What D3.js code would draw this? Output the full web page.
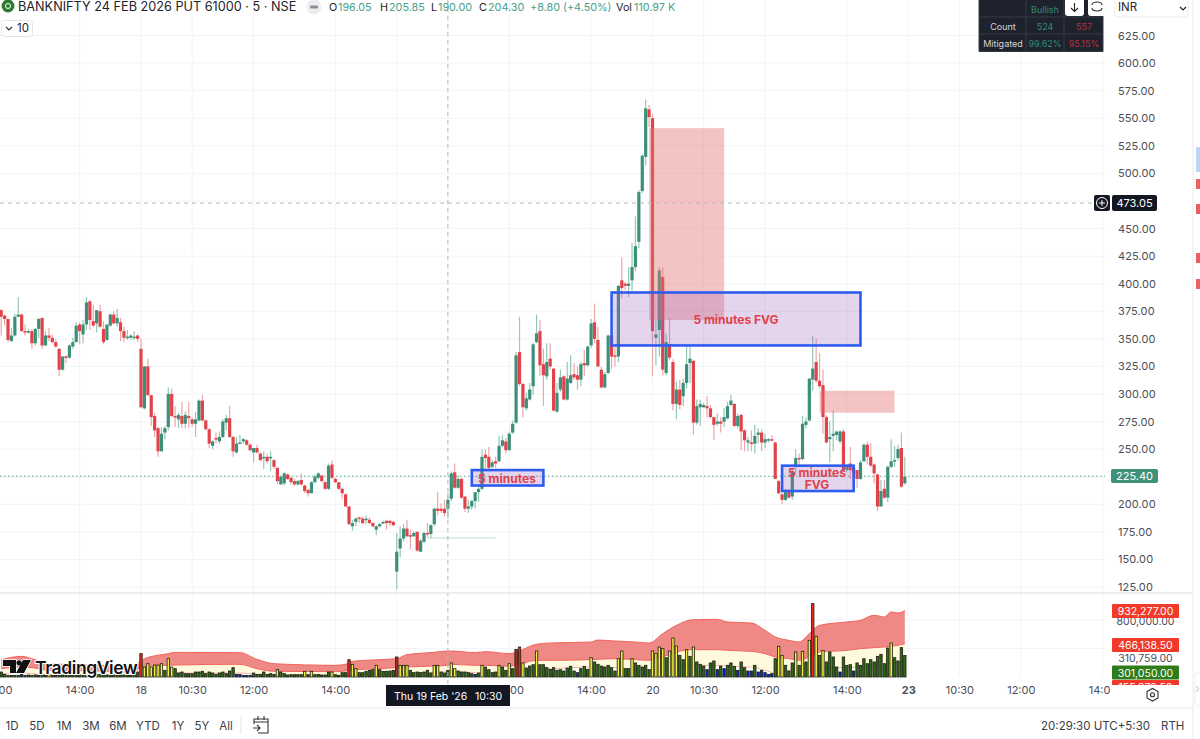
<!DOCTYPE html>
<html>
<head>
<meta charset="utf-8">
<script src="https://cdn.jsdelivr.net/npm/d3@7"></script>
<style>
  body { margin: 0; background: #fff; font-family: Inter, "Noto Sans", sans-serif; }
  text { font-family: Inter, "Noto Sans", sans-serif; }
</style>
</head>
<body>
<div id="chart"></div>
<script>
// candles, one entry per 5 minute bar
const opens = [
  376,371,368,348,353,370,372,357,356,357,
  346,359,369,344,353,351,347,341,322,334,
  333,343,347,363,354,363,384,366,364,375,
  359,349,362,372,364,365,357,351,351,351,
  353,341,287,325,299,280,269,248,265,270,
  300,280,277,280,273,280,277,273,276,294,
  276,268,253,260,257,261,274,278,261,247,
  255,257,258,254,247,251,246,242,243,242,
  240,233,218,219,227,224,221,218,222,217,
  213,210,220,224,226,220,214,236,223,220,
  214,209,198,180,184,188,187,186,186,183,
  177,180,183,185,185,184,139,160,169,178,
  172,171,175,157,166,174,173,182,196,196,
  196,196,205,229,215,223,207,196,198,203,
  211,214,245,243,234,239,239,253,257,249,
  265,274,338,309,287,295,307,347,357,327,
  316,332,323,284,304,316,295,310,318,317,
  313,328,326,344,365,349,322,306,319,353,
  335,334,403,400,398,403,415,438,484,515,
  558,550,351,358,406,319,345,329,291,304,
  298,310,328,330,274,288,288,289,287,279,
  273,275,275,278,290,291,271,281,267,256,
  256,255,263,265,256,258,259,256,221,209,
  204,211,207,234,242,241,272,276,313,329,
  312,308,279,259,262,263,257,266,231,237,
  233,231,223,239,254,243,236,227,198,214,
  206,234,239,242,251,219];
const highs = [
  377,372,368,360,373,388,373,363,359,359,
  360,369,369,357,360,354,350,341,334,335,
  345,351,365,365,367,388,385,381,376,381,
  366,363,373,375,377,369,361,358,354,357,
  354,350,325,332,299,283,270,270,271,306,
  305,289,283,293,284,293,279,284,295,299,
  277,269,258,265,266,277,281,289,262,261,
  263,260,259,255,251,254,247,248,246,248,
  241,234,226,229,228,225,223,222,228,218,
  214,221,227,229,227,221,237,240,224,220,
  215,210,198,186,188,189,189,190,188,184,
  181,183,185,186,186,185,174,180,182,186,
  177,176,176,168,175,183,182,197,211,201,
  204,210,230,237,226,224,207,204,204,211,
  216,250,250,252,240,243,262,263,260,266,
  276,338,370,310,301,310,346,372,367,341,
  346,346,323,310,322,317,329,335,328,325,
  329,340,344,368,382,361,325,320,354,353,
  343,399,424,402,415,437,461,485,517,567,
  562,554,367,415,415,355,369,332,311,313,
  314,344,343,331,295,295,292,298,290,279,
  282,279,287,293,299,292,282,282,268,261,
  267,272,269,268,264,260,263,257,222,210,
  214,214,233,250,246,280,279,314,353,350,
  337,322,281,275,285,266,267,268,236,252,
  235,231,240,255,257,255,237,228,222,222,
  235,259,253,254,265,243];
const lows = [
  353,362,347,347,352,370,356,353,355,341,
  344,351,341,344,348,346,342,316,321,328,
  332,341,347,345,346,358,358,361,356,360,
  345,348,361,363,361,348,347,349,349,349,
  347,287,286,298,271,261,243,248,259,267,
  279,270,269,269,269,269,270,261,275,275,
  267,251,250,255,255,260,267,260,243,246,
  255,255,253,248,238,246,239,232,237,230,
  232,218,218,217,222,218,217,217,217,210,
  207,210,219,223,220,213,213,223,219,213,
  205,198,181,176,180,183,182,182,182,179,
  172,179,182,177,180,180,123,152,166,170,
  159,170,157,157,165,170,169,180,190,192,
  189,187,203,214,214,205,193,192,195,196,
  202,213,231,232,233,233,238,252,246,249,
  264,273,307,279,285,294,299,346,316,289,
  313,322,284,283,302,294,294,309,313,304,
  307,316,325,342,346,324,305,305,318,323,
  325,329,387,394,388,394,411,432,482,507,
  542,316,326,334,317,317,331,285,277,286,
  289,305,310,263,272,271,287,279,278,258,
  271,265,270,277,289,270,269,249,248,248,
  248,246,255,248,251,256,257,223,209,200,
  203,205,204,227,234,240,269,275,303,310,
  305,264,255,238,248,258,255,230,229,223,
  225,215,222,238,236,234,219,194,198,205,
  202,233,234,240,215,218];
const closes = [
  370,368,349,353,370,372,357,356,357,346,
  359,368,344,353,351,347,343,322,334,333,
  344,347,362,357,363,383,367,362,376,361,
  347,363,372,364,369,357,351,352,353,352,
  350,288,325,299,279,267,248,264,269,300,
  280,279,281,273,281,278,273,277,294,276,
  268,255,257,259,261,275,278,261,248,255,
  256,259,254,249,251,247,240,243,239,243,
  234,221,225,228,223,220,218,221,218,212,
  210,220,225,228,221,214,235,224,220,214,
  210,198,182,183,187,187,183,187,183,180,
  180,182,184,183,183,181,157,169,178,171,
  171,174,158,167,174,173,181,196,194,194,
  192,204,228,215,223,206,196,198,203,211,
  214,243,242,233,238,237,253,258,249,264,
  273,335,309,288,296,304,345,355,326,317,
  329,325,285,301,315,295,314,317,315,313,
  327,326,343,364,350,325,306,318,353,334,
  334,398,396,398,400,415,434,483,516,559,
  551,357,354,412,322,347,333,291,304,290,
  310,327,332,274,289,291,290,287,279,272,
  275,273,279,289,294,271,280,266,258,258,
  255,262,265,256,259,259,258,223,210,204,
  211,206,230,242,241,273,275,314,323,312,
  307,279,256,261,264,266,266,231,235,231,
  228,223,238,254,243,235,228,198,212,206,
  234,239,240,250,216,225];

// volume in thousands
const volumes = [
  70,37,23,23,23,23,37,23,28,23,
  28,23,33,23,33,23,23,23,28,23,
  33,23,28,28,23,23,28,37,37,37,
  33,28,28,28,28,28,28,28,23,70,
  70,328,140,187,140,168,168,187,94,257,
  140,117,56,70,47,47,47,70,70,80,
  47,70,56,37,56,70,47,84,131,37,
  37,23,23,23,56,37,37,70,37,47,
  37,103,70,47,28,33,33,33,33,80,
  33,80,33,37,28,28,70,70,33,23,
  61,61,243,178,117,61,61,80,94,103,
  164,103,80,80,84,94,281,164,164,164,
  94,61,70,61,70,94,56,164,164,70,
  56,94,197,117,84,70,70,61,47,37,
  56,164,140,103,61,70,164,140,94,187,
  117,388,421,197,126,154,173,365,173,173,
  131,108,131,94,103,84,126,150,84,61,
  117,150,108,271,211,178,154,140,164,131,
  84,257,365,117,117,257,197,164,140,164,
  103,365,328,421,398,271,365,548,435,304,
  243,384,290,421,211,178,154,103,197,225,
  103,154,117,164,197,150,94,211,131,84,
  84,164,70,94,61,37,47,257,431,304,
  164,84,197,351,164,360,211,515,1030,571,
  304,374,211,351,281,140,70,281,164,173,
  84,197,164,257,187,243,211,290,318,187,
  407,477,271,225,412,301];
const yellowBars = [14,42,43,44,45,46,47,49,50,81,89,91,97,103,104,110,117,118,119,127,128,132,133,141,146,149,153,157,173,181,182,185,191,192,193,194,196,197,198,201,203,228,229,233,235,237,239,241,261];
const redBars = [41,102,152,238];
const darkRedBars = [116,151];
const blueBars = [6,69,70,71,72,73,139,169,207,210,212,216,219,220,222,223,224,225,226,246,250];

// volume band, sampled at these bars (thousands)
const bandBars = [0,6,9,14,29,38,42,49,51,68,70,75,80,98,101,103,109,116,119,127,131,132,139,142,149,157,161,173,175,180,186,190,194,198,203,210,213,220,224,227,231,234,237,240,248,252,256,259,261,263,265];
const bandUpper = [243,290,257,187,164,140,257,328,346,342,342,248,187,164,178,220,239,257,314,346,365,365,342,356,328,459,477,491,519,505,491,477,608,725,805,810,772,758,655,562,515,491,608,725,772,796,866,842,913,899,932];
const bandLower = [117,140,131,94,84,70,150,164,168,178,178,117,80,75,84,103,112,131,140,154,164,178,164,164,150,234,234,243,248,257,243,234,281,351,384,384,374,360,328,281,257,234,281,351,374,398,412,421,431,445,466];
const bandInner = [47,56,47,28,28,23,47,51,56,56,56,37,23,23,23,33,37,47,51,66,70,70,61,56,51,103,112,140,140,131,112,94,126,154,164,164,150,140,94,56,94,103,103,131,131,140,164,178,187,197,211];

const priceTicks = [125,150,175,200,225,250,275,300,325,350,375,400,425,450,475,500,525,550,575,600,625];
// these two labels sit under the price tags in the picture
const hiddenPriceLabels = [225,475];
const timeTickBars = [-1,23,41,56,74,98,116,149,173,191,206,224,248,266,281,299,323];
const timeTickLabels = ["12:00","14:00","18","10:30","12:00","14:00","19","12:00","14:00","20","10:30","12:00","14:00","23","10:30","12:00","14:00"];
const gridBars = [23,41,56,74,98,116,131,149,173,191,206,224,248,266,281,299,323];
const volGridValues = [400,800];

// drawings on the chart: bar from, bar to, price top, price bottom
const pinkBoxes = [[190,212,541,367],[240,262,303,283]];
const blueBoxes = [[179,252,392,344],[138,159,231,217],[229,250,235,212]];
const lastPrice = 225.4;
const crossPrice = 473.05;
const crossBar = 131;
const supportLine = [125,145,169.5];

const WIDTH = 1200, HEIGHT = 739;
const MAIN_TOP = 0, MAIN_BOTTOM = 593, VOL_BOTTOM = 677, TIME_BOTTOM = 708, PLOT_RIGHT = 1105;

const svg = d3.select("#chart").append("svg")
  .attr("width", WIDTH).attr("height", HEIGHT).style("display", "block");

const defs = svg.append("defs");
defs.append("clipPath").attr("id", "plot").append("rect")
  .attr("x", 0).attr("y", MAIN_TOP).attr("width", PLOT_RIGHT).attr("height", MAIN_BOTTOM);
defs.append("clipPath").attr("id", "volplot").append("rect")
  .attr("x", 0).attr("y", MAIN_BOTTOM).attr("width", PLOT_RIGHT).attr("height", VOL_BOTTOM - MAIN_BOTTOM + 1);
defs.append("clipPath").attr("id", "timeclip").append("rect")
  .attr("x", 0).attr("y", VOL_BOTTOM).attr("width", 1110).attr("height", 30);
defs.append("clipPath").attr("id", "volaxis").append("rect")
  .attr("x", 1105).attr("y", MAIN_BOTTOM).attr("width", 90).attr("height", 685 - MAIN_BOTTOM);

const X = d3.scaleLinear().domain([0, 323]).range([1.2, 1102.6]);
const Y = d3.scaleLinear().domain([125, 625]).range([587, 35.5]);
const V = d3.scaleLinear().domain([0, 800]).range([VOL_BOTTOM, 620]);

const GREEN = "#3c8f78", RED = "#e1434b", GREEN_WICK = "#93c7b6", RED_WICK = "#eea6a9";
const GRID = "#f3f4f6";

// grid
svg.append("g").selectAll("line").data(priceTicks).enter().append("line")
  .attr("x1", 0).attr("x2", PLOT_RIGHT)
  .attr("y1", d => Y(d)).attr("y2", d => Y(d))
  .attr("stroke", GRID);
svg.append("g").selectAll("line").data(gridBars).enter().append("line")
  .attr("x1", d => X(d)).attr("x2", d => X(d))
  .attr("y1", 0).attr("y2", VOL_BOTTOM)
  .attr("stroke", GRID);
svg.append("g").selectAll("line").data(volGridValues).enter().append("line")
  .attr("x1", 0).attr("x2", PLOT_RIGHT)
  .attr("y1", d => V(d)).attr("y2", d => V(d))
  .attr("stroke", GRID);

const main = svg.append("g").attr("clip-path", "url(#plot)");

// last price dotted line
main.append("line")
  .attr("x1", 0).attr("x2", PLOT_RIGHT)
  .attr("y1", Y(lastPrice)).attr("y2", Y(lastPrice))
  .attr("stroke", "#5aa893").attr("stroke-dasharray", "1.5 2.5");

// candles
const bars = d3.range(opens.length);
main.append("g").selectAll("line").data(bars).enter().append("line")
  .attr("x1", d => X(d)).attr("x2", d => X(d))
  .attr("y1", d => Y(highs[d])).attr("y2", d => Y(lows[d]))
  .attr("stroke", d => closes[d] >= opens[d] ? GREEN_WICK : RED_WICK)
  .attr("stroke-width", 1.2);
main.append("g").selectAll("rect").data(bars).enter().append("rect")
  .attr("x", d => X(d) - 1.6)
  .attr("width", 3.2)
  .attr("y", d => Y(Math.max(opens[d], closes[d])))
  .attr("height", d => Math.max(1.5, Math.abs(Y(opens[d]) - Y(closes[d]))))
  .attr("fill", d => closes[d] >= opens[d] ? GREEN : RED);

// support line
main.append("line")
  .attr("x1", X(supportLine[0])).attr("x2", X(supportLine[1]))
  .attr("y1", Y(supportLine[2])).attr("y2", Y(supportLine[2]))
  .attr("stroke", "#b5ddd2");

// boxes
main.append("g").selectAll("rect").data(pinkBoxes).enter().append("rect")
  .attr("x", d => X(d[0])).attr("width", d => X(d[1]) - X(d[0]))
  .attr("y", d => Y(d[2])).attr("height", d => Y(d[3]) - Y(d[2]))
  .attr("fill", "#e57373").attr("fill-opacity", 0.42);
main.append("g").selectAll("rect").data(blueBoxes).enter().append("rect")
  .attr("x", d => X(d[0])).attr("width", d => X(d[1]) - X(d[0]))
  .attr("y", d => Y(d[2])).attr("height", d => Y(d[3]) - Y(d[2]))
  .attr("fill", "#9c64be").attr("fill-opacity", 0.27)
  .attr("stroke", "#2f5cf0").attr("stroke-width", 2.6);

const boxText = (x, y, str) => main.append("text")
  .attr("x", x).attr("y", y).attr("text-anchor", "middle")
  .attr("font-size", 12).attr("font-weight", 700).attr("fill", "#e0404a").text(str);
boxText(736, 324, "5 minutes FVG");
boxText(507, 483, "5 minutes");
boxText(817, 477, "5 minutes");
boxText(817, 489, "FVG");

// volume pane
const vol = svg.append("g").attr("clip-path", "url(#volplot)");
const bandArea = (top, bottom) => d3.area()
  .x((d, i) => X(bandBars[i]))
  .y0((d, i) => V(bottom[i]))
  .y1((d, i) => V(top[i]))
  .curve(d3.curveMonotoneX);
const bandLine = (vals) => d3.line()
  .x((d, i) => X(bandBars[i]))
  .y((d, i) => V(vals[i]))
  .curve(d3.curveMonotoneX);
vol.append("path").attr("d", bandArea(bandUpper, bandLower)(bandBars)).attr("fill", "#ef8986");
vol.append("path").attr("d", bandArea(bandLower, bandInner)(bandBars)).attr("fill", "#fff9de");
vol.append("path").attr("d", bandLine(bandUpper)(bandBars)).attr("fill", "none").attr("stroke", "#f2625c");
vol.append("path").attr("d", bandLine(bandLower)(bandBars)).attr("fill", "none").attr("stroke", "#f2625c");
vol.append("path").attr("d", bandLine(bandInner)(bandBars)).attr("fill", "none").attr("stroke", "#f6b5ac");

const volColor = (i) => {
  if (redBars.includes(i)) return "#f0261a";
  if (darkRedBars.includes(i)) return "#a8301f";
  if (yellowBars.includes(i)) return "#f4ee3c";
  if (blueBars.includes(i)) return "#0d22c8";
  return "#2e6a14";
};
vol.append("g").selectAll("rect").data(bars).enter().append("rect")
  .attr("x", d => X(d) - 1.2)
  .attr("width", 2.4)
  .attr("y", d => V(volumes[d]))
  .attr("height", d => VOL_BOTTOM - V(volumes[d]))
  .attr("fill", d => volColor(d))
  .attr("stroke", "#1b1f14").attr("stroke-width", 0.8);

// logo sits over the volume pane
const logo = svg.append("g");
logo.append("path")
  .attr("d", "M3 660H16V673H10V666H3ZM19 665.5a2.6 2.6 0 1 1 0.01 0ZM23 660H31L24 673H16Z")
  .attr("fill", "#111").attr("stroke", "#fff").attr("stroke-width", 1.5).attr("paint-order", "stroke");
logo.append("text").attr("x", 35).attr("y", 673.5)
  .attr("font-size", 17.5).attr("font-weight", 600).attr("letter-spacing", -0.4).attr("fill", "#111")
  .attr("stroke", "#fff").attr("stroke-width", 2).attr("paint-order", "stroke")
  .text("TradingView");

// crosshair
svg.append("line")
  .attr("x1", X(crossBar)).attr("x2", X(crossBar))
  .attr("y1", 0).attr("y2", 685)
  .attr("stroke", "#b4b7bd").attr("stroke-dasharray", "4 4");
svg.append("line")
  .attr("x1", 0).attr("x2", 1095)
  .attr("y1", Y(crossPrice)).attr("y2", Y(crossPrice))
  .attr("stroke", "#b4b7bd").attr("stroke-dasharray", "4 4");

// separators
svg.append("line").attr("x1", 0).attr("x2", 1192).attr("y1", MAIN_BOTTOM).attr("y2", MAIN_BOTTOM)
  .attr("stroke", "#e6e7ea").attr("stroke-width", 1.5);
svg.append("line").attr("x1", 0).attr("x2", 1192).attr("y1", TIME_BOTTOM).attr("y2", TIME_BOTTOM)
  .attr("stroke", "#e6e7ea").attr("stroke-width", 1);
svg.append("line").attr("x1", 1193).attr("x2", 1193).attr("y1", 0).attr("y2", 739)
  .attr("stroke", "#e9eaed").attr("stroke-width", 1);

// price axis
const priceAxis = svg.append("g")
  .attr("transform", "translate(1118,0)")
  .call(d3.axisRight(Y)
    .tickValues(priceTicks.filter(d => !hiddenPriceLabels.includes(d)))
    .tickSize(0).tickPadding(0).tickFormat(d3.format(".2f")));
priceAxis.select(".domain").remove();
priceAxis.selectAll("text").attr("font-size", 11).attr("letter-spacing", 0.1).attr("fill", "#4a4e57").attr("x", 0);

// time axis
const timeAxis = svg.append("g")
  .attr("clip-path", "url(#timeclip)")
  .append("g")
  .attr("transform", "translate(0,686)")
  .call(d3.axisBottom(X).tickValues(timeTickBars).tickSize(0).tickPadding(0)
    .tickFormat((d, i) => timeTickLabels[i]));
timeAxis.select(".domain").remove();
timeAxis.selectAll("text")
  .attr("font-size", 11).attr("fill", "#4a4e57")
  .attr("font-weight", d => d === 266 ? 700 : 400);

// tags on the price axis
const tag = (x, y, w, h, fill, str, color) => {
  const g = svg.append("g");
  g.append("rect").attr("x", x).attr("y", y).attr("width", w).attr("height", h).attr("rx", 2).attr("fill", fill);
  g.append("text").attr("x", x + w / 2).attr("y", y + h / 2 + 4).attr("text-anchor", "middle")
    .attr("font-size", 11).attr("fill", color).text(str);
};
tag(1112, 195, 45, 16, "#131722", "473.05", "#fff");
tag(1111, 469, 47, 14, "#3f917a", "225.40", "#fff");

// plus button on the crosshair
svg.append("rect").attr("x", 1094).attr("y", 195).attr("width", 16).attr("height", 16).attr("rx", 2).attr("fill", "#131722");
svg.append("circle").attr("cx", 1102).attr("cy", 203).attr("r", 5.5).attr("fill", "none").attr("stroke", "#fff");
svg.append("path").attr("d", "M1099 203H1105M1102 200V206").attr("stroke", "#fff");

// volume axis labels
const volAxisG = svg.append("g").attr("clip-path", "url(#volaxis)");
const volLabel = (y, fill, str, color) => {
  if (fill) volAxisG.append("rect").attr("x", 1112).attr("y", y - 7).attr("width", 67).attr("height", 14).attr("rx", 1).attr("fill", fill);
  volAxisG.append("text").attr("x", 1145.5).attr("y", y + 4).attr("text-anchor", "middle")
    .attr("font-size", 10.5).attr("fill", color).text(str);
};
volLabel(621, null, "800,000.00", "#4a4e57");
volLabel(611, "#f23a2a", "932,277.00", "#fff");
volLabel(645, "#f23a2a", "466,138.50", "#fff");
volLabel(658, null, "310,759.00", "#4a4e57");
volLabel(687, "#f23a2a", "155,379.50", "#fff");
volLabel(672.5, "#2e7d18", "301,050.00", "#fff");

// hovered time label
svg.append("rect").attr("x", 386).attr("y", 685).attr("width", 124).attr("height", 21).attr("fill", "#131722");
svg.append("text").attr("x", 394).attr("y", 700).attr("font-size", 10.5).attr("fill", "#fff").text("Thu 19 Feb '26");
svg.append("text").attr("x", 475).attr("y", 700).attr("font-size", 10.5).attr("fill", "#fff").text("10:30");

// header legend
svg.append("circle").attr("cx", 8).attr("cy", 6).attr("r", 6.5).attr("fill", "#2f7d32");
svg.append("circle").attr("cx", 8).attr("cy", 6).attr("r", 2.5).attr("fill", "none").attr("stroke", "#fff");
const head = (x, str, color, size) => svg.append("text").attr("x", x).attr("y", 11)
  .attr("font-size", size || 10.8).attr("fill", color).text(str);
const DARK = "#1f232b", TEAL = "#49a08b";
head(18, "BANKNIFTY 24 FEB 2026 PUT 61000 · 5 · NSE", DARK, 12.7);
svg.append("circle").attr("cx", 314).attr("cy", 7).attr("r", 7.5).attr("fill", "#eceef0");
svg.append("rect").attr("x", 310).attr("y", 5.5).attr("width", 8).attr("height", 3).attr("rx", 1).attr("fill", "#8a8d93");
head(329, "O", DARK); head(338, "196.05", TEAL);
head(380, "H", DARK); head(389, "205.85", TEAL);
head(431, "L", DARK); head(438, "190.00", TEAL);
head(479, "C", DARK); head(488, "204.30", TEAL);
head(530, "+8.80 (+4.50%)", TEAL);
head(616, "Vol", DARK); head(634, "110.97 K", TEAL);

// collapsed indicators button
svg.append("rect").attr("x", 1.5).attr("y", 20.5).attr("width", 31).attr("height", 16).attr("rx", 3)
  .attr("fill", "#fff").attr("stroke", "#e3e4e8");
svg.append("path").attr("d", "M6 27L9 30L12 27").attr("fill", "none").attr("stroke", "#333").attr("stroke-width", 1.2);
svg.append("text").attr("x", 17).attr("y", 32).attr("font-size", 11.5).attr("fill", DARK).text("10");

// stats table, top right
const TABLE_X = [979, 1026, 1064, 1103], TABLE_Y = [0, 17, 34, 51.5];
svg.append("rect").attr("x", TABLE_X[0]).attr("y", 0).attr("width", TABLE_X[3] - TABLE_X[0]).attr("height", TABLE_Y[3]).attr("fill", "#1e222d");
svg.append("g").selectAll("line").data(TABLE_X).enter().append("line")
  .attr("x1", d => d).attr("x2", d => d).attr("y1", 0).attr("y2", TABLE_Y[3]).attr("stroke", "#363a45");
svg.append("g").selectAll("line").data(TABLE_Y.slice(1)).enter().append("line")
  .attr("x1", TABLE_X[0]).attr("x2", TABLE_X[3]).attr("y1", d => d).attr("y2", d => d).attr("stroke", "#363a45");
const cell = (x, y, str, color) => svg.append("text").attr("x", x).attr("y", y).attr("text-anchor", "middle")
  .attr("font-size", 9).attr("fill", color).text(str);
cell(1045, 13, "Bullish", "#2f8a74");
cell(1003, 30, "Count", "#d4d6db");
cell(1045, 30, "524", "#2f8a74");
cell(1084, 30, "557", "#b3323a");
cell(1003, 47, "Mitigated", "#d4d6db");
cell(1045, 47, "99.62%", "#2f8a74");
cell(1084, 47, "95.15%", "#b3323a");

// buttons over the table
svg.append("rect").attr("x", 1065).attr("y", -4).attr("width", 19).attr("height", 20).attr("rx", 3).attr("fill", "#fff");
svg.append("path").attr("d", "M1074.5 3V11M1071 8L1074.5 11.5L1078 8").attr("fill", "none").attr("stroke", "#222").attr("stroke-width", 1.1);
svg.append("rect").attr("x", 1088).attr("y", -4).attr("width", 18).attr("height", 20).attr("rx", 3).attr("fill", "#fff");
svg.append("path").attr("d", "M1092 5C1092 3 1094 2 1097 2C1100 2 1102 3 1102 5M1092 8C1092 10 1094 11 1097 11C1100 11 1102 10 1102 8").attr("fill", "none").attr("stroke", "#333").attr("stroke-width", 1.1);

// currency dropdown
svg.append("rect").attr("x", 1115).attr("y", -4).attr("width", 73).attr("height", 21).attr("rx", 3).attr("fill", "#fff").attr("stroke", "#ececef");
svg.append("text").attr("x", 1118).attr("y", 11).attr("font-size", 11.5).attr("fill", DARK).text("INR");
svg.append("path").attr("d", "M1180 7L1183 10L1186 7").attr("fill", "none").attr("stroke", "#222").attr("stroke-width", 1.2);

// right edge markers
svg.append("rect").attr("x", 1196).attr("y", 147).attr("width", 4).attr("height", 25).attr("fill", "#bcd5f5");
const edgeMarks = [179, 204, 253, 279];
svg.append("g").selectAll("rect").data(edgeMarks).enter().append("rect")
  .attr("x", 1196).attr("y", d => d).attr("width", 4).attr("height", 10).attr("fill", "#ea5f60");
svg.append("rect").attr("x", 1195).attr("y", 673).attr("width", 8).attr("height", 33).attr("rx", 3)
  .attr("fill", "#fff").attr("stroke", "#eeeef0");
svg.append("path").attr("d", "M1196.5 686L1198.5 689L1196.5 692").attr("fill", "none").attr("stroke", "#bbb");

// settings gear
svg.append("path").attr("d", "M1147 691.5L1152.5 688.5L1158 691.5V698L1152.5 701L1147 698Z").attr("fill", "none").attr("stroke", "#333").attr("stroke-width", 1.1);
svg.append("circle").attr("cx", 1152.5).attr("cy", 694.8).attr("r", 2).attr("fill", "none").attr("stroke", "#333").attr("stroke-width", 1.1);

// bottom toolbar
const ranges = ["1D","5D","1M","3M","6M","YTD","1Y","5Y","All"];
const rangeCenters = [12,37,64,91,118,148,178,202,226];
svg.append("g").selectAll("text").data(ranges).enter().append("text")
  .attr("x", (d, i) => rangeCenters[i]).attr("y", 730).attr("text-anchor", "middle")
  .attr("font-size", 11.5).attr("fill", "#3a3e47").text(d => d);
svg.append("line").attr("x1", 241).attr("x2", 241).attr("y1", 716).attr("y2", 734).attr("stroke", "#e3e4e8");
svg.append("path").attr("d", "M254 724V719H268V733H258M254 722H268M258 716V720M264 716V720M253 728H260M257 725L260 728L257 731")
  .attr("fill", "none").attr("stroke", "#333").attr("stroke-width", 1.1);
svg.append("text").attr("x", 1150).attr("y", 730).attr("text-anchor", "end").attr("font-size", 11.5).attr("fill", "#3a3e47").text("20:29:30 UTC+5:30");
svg.append("text").attr("x", 1161).attr("y", 730).attr("font-size", 11.5).attr("fill", "#3a3e47").text("RTH");
</script>
</body>
</html>
